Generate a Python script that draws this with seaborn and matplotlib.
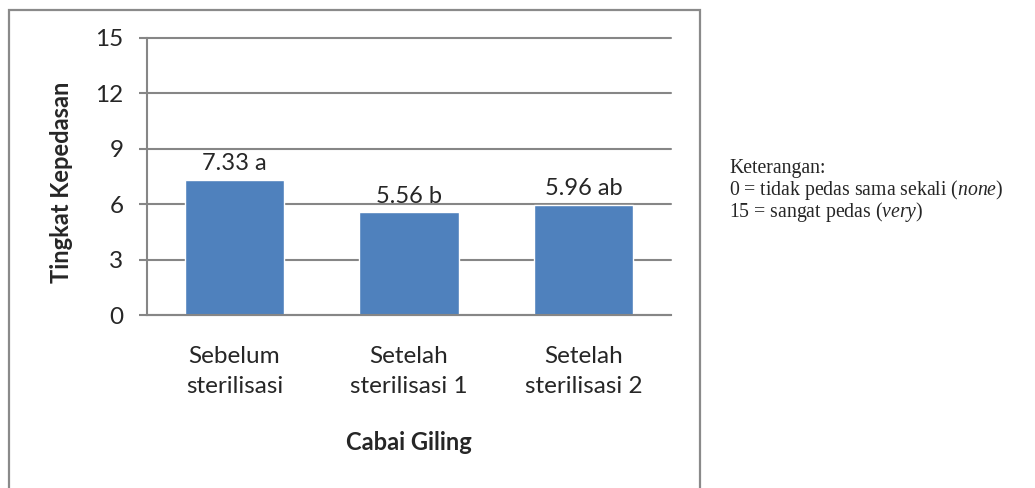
import matplotlib
matplotlib.use("Agg")
import matplotlib.pyplot as plt
from matplotlib.patches import Rectangle
import seaborn as sns
import pandas as pd

# Spiciness scores of ground chili before and after sterilisation
categories = ["Sebelum\nsterilisasi", "Setelah\nsterilisasi 1", "Setelah\nsterilisasi 2"]
values = [7.33, 5.56, 5.96]
letters = ["a", "b", "ab"]
y_ticks = [0, 3, 6, 9, 12, 15]

sns.set_style("white")
plt.rcParams["font.family"] = ["Lato", "DejaVu Sans"]
plt.rcParams["mathtext.fontset"] = "custom"
plt.rcParams["mathtext.rm"] = "Liberation Serif"
plt.rcParams["mathtext.it"] = "Liberation Serif:italic"

GRAY = "#868686"
BAR = "#4F81BD"

df = pd.DataFrame({"kategori": categories, "nilai": values})

fig = plt.figure(figsize=(10.35, 4.88), dpi=100)
ax = fig.add_axes([147 / 1035, 1 - 315 / 488, (671 - 147) / 1035, (315 - 38) / 488])

sns.barplot(data=df, x="kategori", y="nilai", color=BAR, saturation=1,
            width=0.57, ax=ax, errorbar=None)

ax.set_ylim(0, 15)
ax.set_yticks(y_ticks)
ax.set_xlim(-0.5, len(categories) - 0.5)

ax.set_axisbelow(True)
ax.yaxis.grid(True, color=GRAY, linewidth=1.5)
for gl in ax.get_ygridlines():
    gl.set_clip_on(False)
ax.xaxis.grid(False)

for side in ["top", "right"]:
    ax.spines[side].set_visible(False)
for side in ["left", "bottom"]:
    ax.spines[side].set_color(GRAY)
    ax.spines[side].set_linewidth(1.5)

ax.tick_params(axis="y", direction="out", length=6, width=1.5, color=GRAY,
               pad=11, labelsize=17.5, left=True)
ax.tick_params(axis="x", length=0, pad=22, labelsize=17.5)
for lbl in ax.get_xticklabels():
    lbl.set_linespacing(1.55)

# Value labels with significance letters
labels = [f"{v:.2f} {l}" for v, l in zip(values, letters)]
ax.bar_label(ax.containers[0], labels=labels, padding=4, fontsize=17)

ax.set_xlabel("Cabai Giling", fontsize=17, fontweight="bold", va="center")
ax.xaxis.set_label_coords(0.5, (315 - 443) / 277)
ax.set_ylabel("Tingkat Kepedasan", fontsize=17, fontweight="bold", va="center")
ax.yaxis.set_label_coords((62 - 147) / 524, (315 - 182) / 277)

# Chart frame
frame = Rectangle((9 / 1035, -0.05), (700 - 9) / 1035, 1.05 - 10 / 488,
                  transform=fig.transFigure, fill=False, edgecolor="#8a8a8a",
                  linewidth=1.6, clip_on=False)
fig.patches.append(frame)

# Scale description
note_kw = dict(fontsize=14.2, family="Liberation Serif", va="baseline", ha="left")
fig.text(729 / 1035, 1 - 173 / 488, "Keterangan:", **note_kw)
fig.text(729 / 1035, 1 - 195 / 488, r"0 = tidak pedas sama sekali ($\mathit{none}$)", **note_kw)
fig.text(729 / 1035, 1 - 217 / 488, r"15 = sangat pedas ($\mathit{very}$)", **note_kw)

fig.savefig("out.png", dpi=100)
